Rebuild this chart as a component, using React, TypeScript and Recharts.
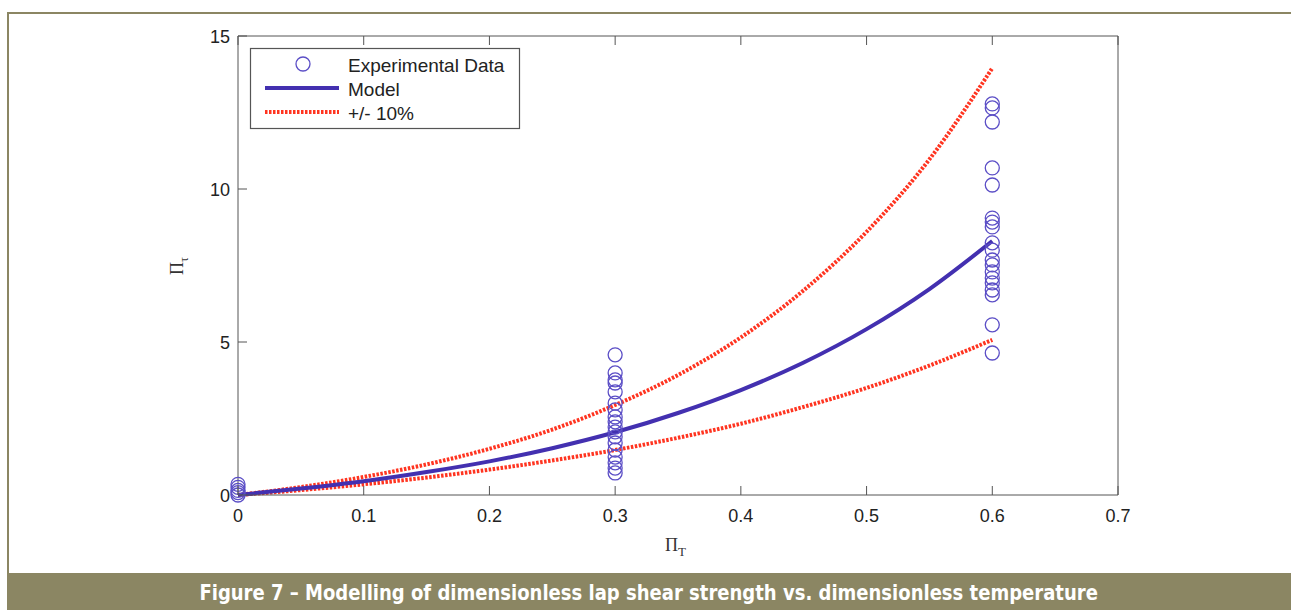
import {
  ComposedChart,
  Line,
  Scatter,
  XAxis,
  YAxis,
} from "recharts";

// model curves at x = 0 .. 0.6
const CURVE_X = [0, 0.05, 0.1, 0.15, 0.2, 0.25, 0.3, 0.35, 0.4, 0.45, 0.5, 0.55, 0.6];
const MODEL_Y = [0, 0.21, 0.45, 0.75, 1.1, 1.53, 2.05, 2.68, 3.43, 4.33, 5.42, 6.73, 8.3];
const UPPER_Y = [0, 0.26, 0.59, 1.0, 1.51, 2.14, 2.94, 3.92, 5.15, 6.69, 8.6, 10.97, 13.95];
const LOWER_Y = [0, 0.16, 0.35, 0.57, 0.83, 1.13, 1.47, 1.87, 2.33, 2.88, 3.5, 4.23, 5.07];

// experimental points, grouped by dimensionless temperature
const EXP_AT_0 = [0, 0.08, 0.15, 0.25, 0.35];
const EXP_AT_03 = [4.58, 3.99, 3.76, 3.66, 3.37, 3.0, 2.78, 2.55, 2.39, 2.22, 2.06, 1.9, 1.7, 1.47, 1.24, 1.05, 0.88, 0.72];
const EXP_AT_06 = [12.78, 12.65, 12.19, 10.69, 10.13, 9.05, 8.92, 8.76, 8.24, 8.0, 7.68, 7.52, 7.29, 7.09, 6.93, 6.7, 6.54, 5.56, 4.64];

const X_TICKS = [0, 0.1, 0.2, 0.3, 0.4, 0.5, 0.6, 0.7];
const Y_TICKS = [0, 5, 10, 15];

const CAPTION = "Figure 7 \u2013 Modelling of dimensionless lap shear strength vs. dimensionless temperature";

const AXIS = "#555";
const TEXT = "#222";
const CIRCLE = "#5b4ec6";
const MODEL = "#4330b0";
const RED = "#ff3420";
const OLIVE = "#8b8663";
const FONT = "'Liberation Sans', Arial, sans-serif";

const curveData = CURVE_X.map((x, i) => ({
  x,
  model: MODEL_Y[i],
  upper: UPPER_Y[i],
  lower: LOWER_Y[i],
}));

const expData = [
  ...EXP_AT_0.map((y) => ({ x: 0, y })),
  ...EXP_AT_03.map((y) => ({ x: 0.3, y })),
  ...EXP_AT_06.map((y) => ({ x: 0.6, y })),
];

const TICK_LEN = 9;

function BottomTick({ x, y, payload }: any) {
  return (
    <g>
      <line x1={x} x2={x} y1={y} y2={y - TICK_LEN} stroke={AXIS} />
      <text x={x} y={y + 27} textAnchor="middle" fontSize={18} fill={TEXT} fontFamily={FONT}>
        {String(payload.value)}
      </text>
    </g>
  );
}

function TopTick({ x, y }: any) {
  return <line x1={x} x2={x} y1={y} y2={y + TICK_LEN} stroke={AXIS} />;
}

function LeftTick({ x, y, payload }: any) {
  return (
    <g>
      <line x1={x} x2={x + TICK_LEN} y1={y} y2={y} stroke={AXIS} />
      <text x={x - 8} y={y + 7} textAnchor="end" fontSize={18} fill={TEXT} fontFamily={FONT}>
        {String(payload.value)}
      </text>
    </g>
  );
}

function RightTick({ x, y }: any) {
  return <line x1={x} x2={x - TICK_LEN} y1={y} y2={y} stroke={AXIS} />;
}

function Ring(props: any) {
  const { cx, cy } = props;
  return <circle cx={cx} cy={cy} r={7} fill="none" stroke={CIRCLE} strokeWidth={1.3} />;
}

function Overlay() {
  return (
    <svg
      width={1291}
      height={610}
      style={{ position: "absolute", left: 0, top: 0, pointerEvents: "none" }}
    >
      {/* legend */}
      <rect x={250.5} y={48.5} width={269} height={80} fill="#fff" stroke={AXIS} strokeWidth={1.2} />
      <circle cx={303} cy={64} r={7} fill="none" stroke={CIRCLE} strokeWidth={1.3} />
      <text x={348} y={72} fontSize={19} fill={TEXT} fontFamily={FONT}>Experimental Data</text>
      <line x1={265} x2={339} y1={88} y2={88} stroke={MODEL} strokeWidth={4} />
      <text x={348} y={96} fontSize={19} fill={TEXT} fontFamily={FONT}>Model</text>
      <line x1={265} x2={339} y1={112} y2={112} stroke={RED} strokeWidth={4} strokeDasharray="2.5 1.5" />
      <text x={348} y={120} fontSize={19} fill={TEXT} fontFamily={FONT}>+/- 10%</text>

      {/* axis titles */}
      <text
        transform="translate(183,266) rotate(-90)"
        textAnchor="middle"
        fontSize={18}
        fill="#333"
        fontFamily="'Liberation Serif', serif"
      >
        Π<tspan dy={5} fontSize={12}>τ</tspan>
      </text>
      <text x={665} y={551} fontSize={18} fill="#333" fontFamily="'Liberation Serif', serif">
        Π<tspan dy={5} fontSize={13}>T</tspan>
      </text>
    </svg>
  );
}

export default function App() {
  return (
    <div
      style={{
        position: "absolute",
        left: 0,
        top: 0,
        width: 1291,
        height: 610,
        background: "#fff",
        overflow: "hidden",
      }}
    >
      {/* page frame */}
      <div style={{ position: "absolute", left: 7, top: 12, right: 0, height: 2, background: OLIVE }} />
      <div style={{ position: "absolute", left: 7, top: 12, bottom: 0, width: 2, background: OLIVE }} />

      <div style={{ position: "absolute", left: 0, top: 0 }}>
        <ComposedChart
          width={1291}
          height={610}
          data={curveData}
          margin={{ top: 26, right: 163, bottom: 85, left: 178 }}
        >
          <XAxis
            xAxisId="b"
            dataKey="x"
            type="number"
            domain={[0, 0.7]}
            ticks={X_TICKS}
            height={30}
            tickSize={0}
            tickMargin={0}
            tickLine={false}
            axisLine={{ stroke: AXIS }}
            tick={<BottomTick />}
          />
          <XAxis
            xAxisId="t"
            orientation="top"
            dataKey="x"
            type="number"
            domain={[0, 0.7]}
            ticks={X_TICKS}
            height={10}
            tickSize={0}
            tickMargin={0}
            tickLine={false}
            axisLine={{ stroke: AXIS }}
            tick={<TopTick />}
          />
          <YAxis
            yAxisId="l"
            type="number"
            domain={[0, 15]}
            ticks={Y_TICKS}
            width={60}
            tickSize={0}
            tickMargin={0}
            tickLine={false}
            axisLine={{ stroke: AXIS }}
            tick={<LeftTick />}
          />
          <YAxis
            yAxisId="r"
            orientation="right"
            type="number"
            domain={[0, 15]}
            ticks={Y_TICKS}
            width={10}
            tickSize={0}
            tickMargin={0}
            tickLine={false}
            axisLine={{ stroke: AXIS }}
            tick={<RightTick />}
          />
          <Line
            xAxisId="b"
            yAxisId="l"
            dataKey="upper"
            type="monotone"
            stroke={RED}
            strokeWidth={4}
            strokeDasharray="2.5 1.5"
            dot={false}
            isAnimationActive={false}
          />
          <Line
            xAxisId="b"
            yAxisId="l"
            dataKey="lower"
            type="monotone"
            stroke={RED}
            strokeWidth={4}
            strokeDasharray="2.5 1.5"
            dot={false}
            isAnimationActive={false}
          />
          <Line
            xAxisId="b"
            yAxisId="l"
            dataKey="model"
            type="monotone"
            stroke={MODEL}
            strokeWidth={4}
            dot={false}
            isAnimationActive={false}
          />
          <Scatter
            xAxisId="b"
            yAxisId="l"
            data={expData}
            dataKey="y"
            shape={<Ring />}
            isAnimationActive={false}
          />
        </ComposedChart>
      </div>

      <Overlay />

      {/* caption band */}
      <div
        style={{
          position: "absolute",
          left: 7,
          right: 0,
          top: 573,
          height: 37,
          background: OLIVE,
          color: "#fff",
          fontFamily: "'DejaVu Sans Condensed', 'Liberation Sans', sans-serif",
          fontWeight: "bold",
          fontSize: 22,
          lineHeight: "40px",
          textAlign: "center",
          whiteSpace: "nowrap",
        }}
      >
        <span style={{ display: "inline-block", transform: "scaleX(0.91)" }}>{CAPTION}</span>
      </div>
    </div>
  );
}
